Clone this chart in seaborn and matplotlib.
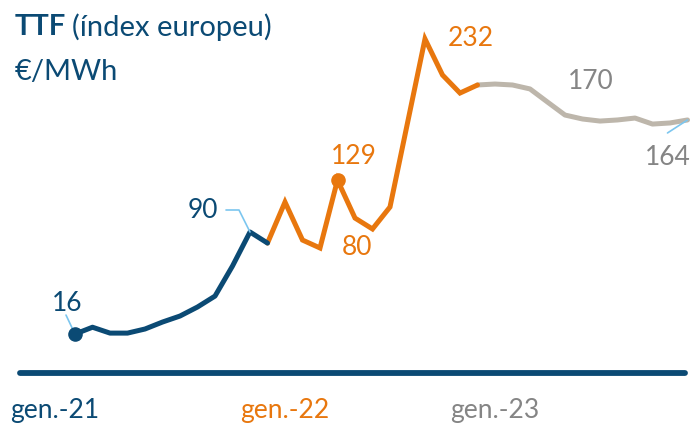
import matplotlib
matplotlib.use("Agg")
import matplotlib.pyplot as plt
import seaborn as sns
import pandas as pd
from matplotlib.transforms import ScaledTranslation

# Preu mensual TTF (EUR/MWh), índex 0 = gen.-21
blue_idx = list(range(0, 12))
blue_val = [16, 21, 16.7, 16.7, 19.7, 24.8, 29.2, 35.8, 43.8, 65.8, 90.7, 82.6]
orange_idx = list(range(11, 24))
orange_val = [82.6, 112.6, 84.8, 79, 128.7, 100.9, 92.9, 109, 170.5, 232, 205.6, 192.4, 198.3]
gray_idx = list(range(23, 36))
gray_val = [198.3, 199, 198.3, 195.4, 185.8, 176.3, 173.4, 171.9, 172.7, 174.1, 169.7, 170.5, 172.7]

tick_pos = [0, 12, 24]
tick_labels = ["gen.-21", "gen.-22", "gen.-23"]

BLUE = "#0b4a74"
ORANGE = "#e8770e"
GRAY_LINE = "#bdb6ab"
GRAY_TXT = "#858585"
LEADER = "#7cc6ef"

sns.set_theme(style="white")
plt.rcParams["font.family"] = ["Lato", "DejaVu Sans"]

fig = plt.figure(figsize=(6.92, 4.25), dpi=100)
ax = fig.add_axes([0, 52 / 425, 1, 373 / 425])

df_b = pd.DataFrame({"m": blue_idx, "v": blue_val})
df_o = pd.DataFrame({"m": orange_idx, "v": orange_val})
df_g = pd.DataFrame({"m": gray_idx, "v": gray_val})

sns.lineplot(data=df_g, x="m", y="v", ax=ax, color=GRAY_LINE, lw=3.6,
             solid_joinstyle="round", solid_capstyle="round")
sns.lineplot(data=df_o, x="m", y="v", ax=ax, color=ORANGE, lw=3.6,
             solid_joinstyle="miter", solid_capstyle="round")
sns.lineplot(data=df_b, x="m", y="v", ax=ax, color=BLUE, lw=3.6,
             solid_joinstyle="round", solid_capstyle="round")

ax.set_xlim(-75 / 17.5, (692 - 75) / 17.5)
ax.set_ylim(-12.5, 260.5)

# punts destacats
ax.scatter([blue_idx[0]], [blue_val[0]], s=90, color=BLUE, zorder=5)
ax.scatter([orange_idx[4]], [orange_val[4]], s=90, color=ORANGE, zorder=5)

# eix inferior
ax.axhline(-12.5, xmin=20 / 692, xmax=685 / 692, color=BLUE, lw=4.2,
           solid_capstyle="round", clip_on=False, zorder=6)

for s in ax.spines.values():
    s.set_visible(False)
ax.set_yticks([])
ax.set_xlabel("")
ax.set_ylabel("")
ax.set_xticks(tick_pos)
ax.set_xticklabels(tick_labels, fontsize=19)
ax.tick_params(axis="x", length=0, pad=18)
for lab, c in zip(ax.get_xticklabels(), [BLUE, ORANGE, GRAY_TXT]):
    lab.set_color(c)
first = ax.get_xticklabels()[0]
first.set_transform(first.get_transform() + ScaledTranslation(-0.2, 0, fig.dpi_scale_trans))


def off(x, y, dx, dy):
    p = ax.transData.transform((x, y))
    return ax.transData.inverted().transform((p[0] + dx, p[1] + dy))


def label(txt, x, y, dx, dy, color):
    ax.annotate(txt, xy=(x, y), xytext=(dx, dy), textcoords="offset pixels",
                ha="center", va="center", fontsize=19, color=color)


label("16", blue_idx[0], blue_val[0], -8, 31, BLUE)
label("90", blue_idx[10], blue_val[10], -47, 21, BLUE)
label("129", orange_idx[4], orange_val[4], 16, 24, ORANGE)
label("80", orange_idx[3], orange_val[3], 37, 0, ORANGE)
label("232", orange_idx[9], orange_val[9], 46, 0, ORANGE)
label("170", gray_idx[6], gray_val[6], 8, 38, GRAY_TXT)
label("164", gray_idx[12], gray_val[12], -20, -38, GRAY_TXT)

# línies guia
a = off(blue_idx[0], blue_val[0], -9, 19)
ax.plot([blue_idx[0], a[0]], [blue_val[0], a[1]], color=LEADER, lw=1.2, zorder=4)
a = off(blue_idx[10], blue_val[10], -11, 22)
b = off(blue_idx[10], blue_val[10], -24, 22)
ax.plot([blue_idx[10], a[0], b[0]], [blue_val[10], a[1], b[1]], color=LEADER, lw=1.2, zorder=2)
a = off(gray_idx[12], gray_val[12], -20, -13)
ax.plot([gray_idx[12], a[0]], [gray_val[12], a[1]], color=LEADER, lw=1.2, zorder=4)

# títol
t1 = fig.text(15 / 692, 1 - 27 / 425, "TTF", fontsize=21, fontweight="bold",
              color=BLUE, va="center", ha="left")
fig.canvas.draw()
bb = t1.get_window_extent()
fig.text((bb.x1 + 6) / 692, 1 - 27 / 425, "(índex europeu)", fontsize=21,
         color=BLUE, va="center", ha="left")
fig.text(15 / 692, 1 - 72 / 425, "€/MWh", fontsize=21, color=BLUE,
         va="center", ha="left")

fig.savefig("out.png", dpi=100)
